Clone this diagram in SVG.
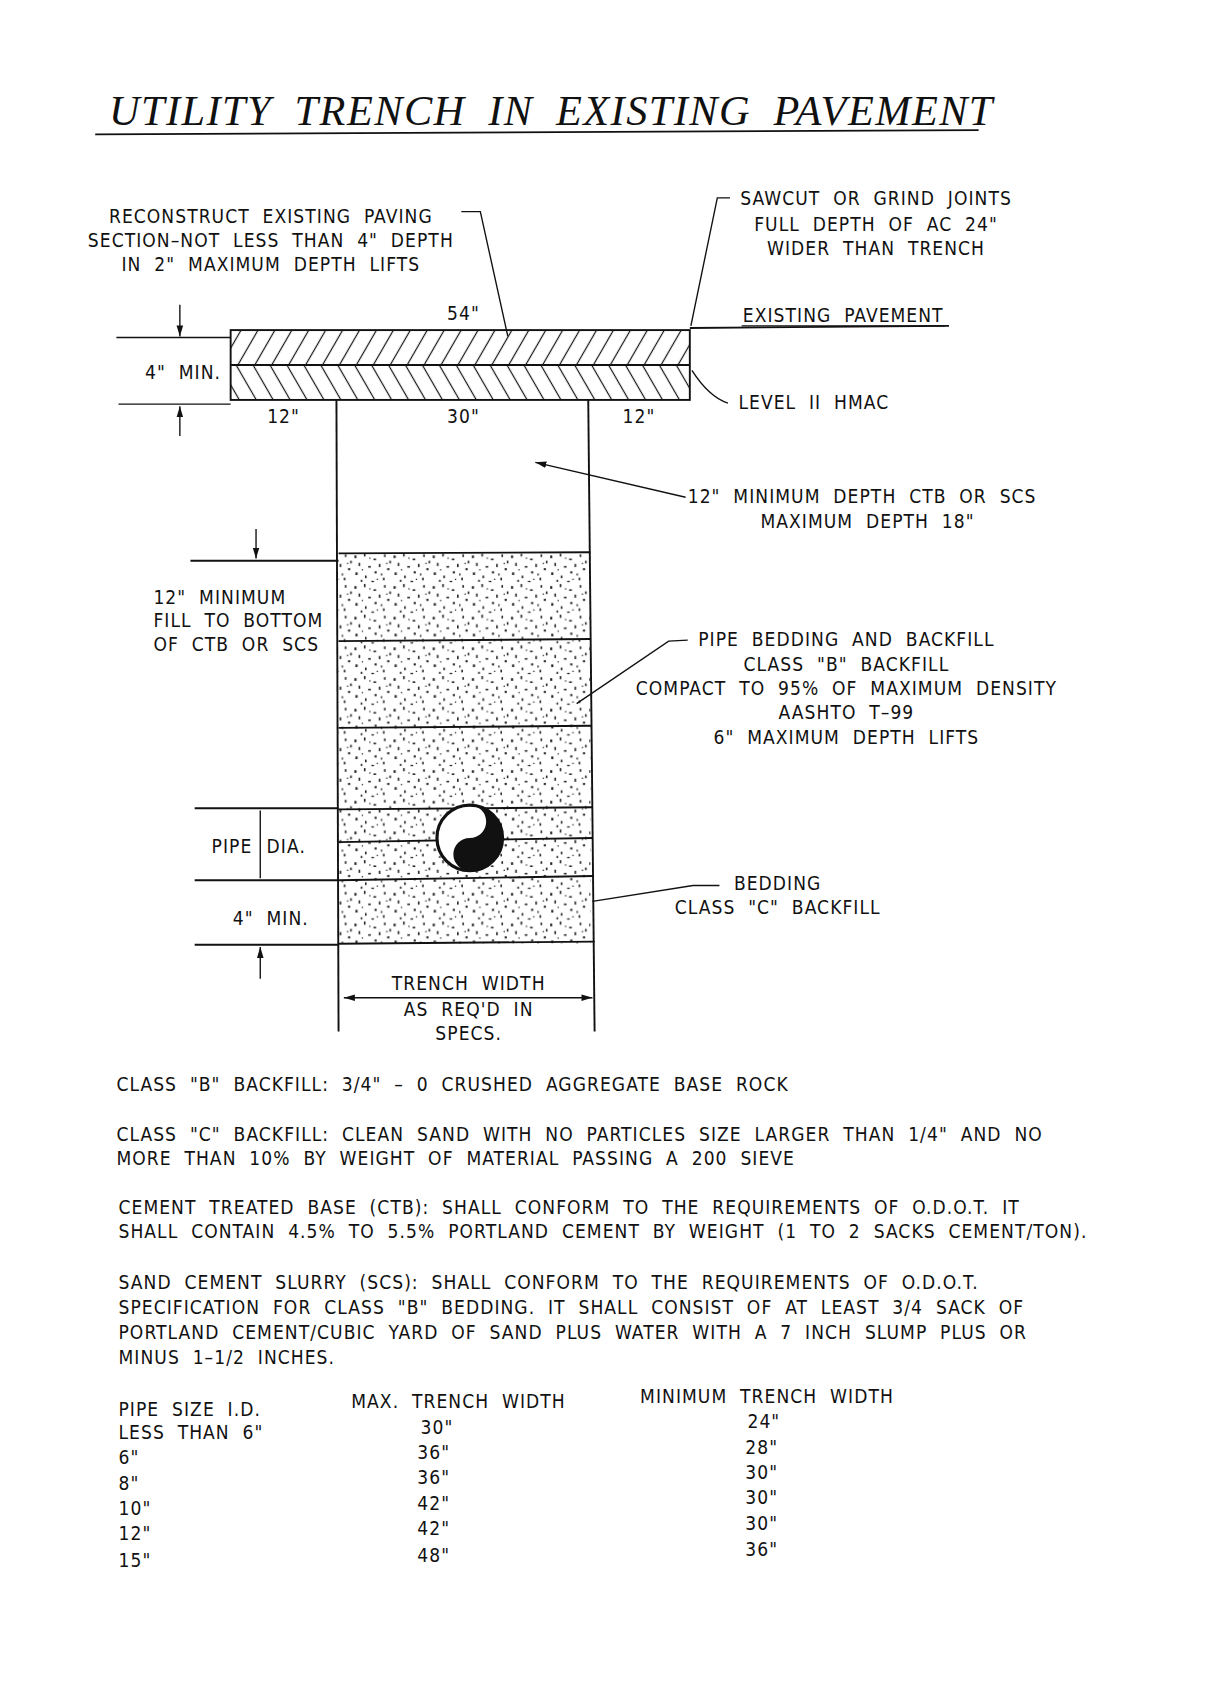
<svg xmlns="http://www.w3.org/2000/svg" width="1206" height="1684" viewBox="0 0 1206 1684">
<style>
text{font-family:"DejaVu Sans Condensed","Liberation Sans",sans-serif;font-size:18px;fill:#111;font-stretch:condensed;letter-spacing:1px;word-spacing:6px}
.c{text-anchor:middle}
.ln{stroke:#111;stroke-width:1.8;fill:none}
.th{stroke:#111;stroke-width:1.3;fill:none}
</style>
<defs>
<pattern id="h1" width="16" height="40" patternUnits="userSpaceOnUse" patternTransform="skewX(-30)">
<line x1="8" y1="0" x2="8" y2="40" stroke="#111" stroke-width="1.3"/>
</pattern>
<pattern id="h2" width="16" height="40" patternUnits="userSpaceOnUse" patternTransform="skewX(30)">
<line x1="8" y1="0" x2="8" y2="40" stroke="#111" stroke-width="1.3"/>
</pattern>
<pattern id="dots" width="37" height="29" patternUnits="userSpaceOnUse">
<g fill="#222">
<rect x="2" y="3" width="2" height="2.5"/><rect x="11" y="1" width="1.5" height="3"/><rect x="20" y="6" width="2.5" height="1.5"/><rect x="30" y="2" width="1.5" height="2.5"/>
<rect x="6" y="10" width="1.5" height="3"/><rect x="15" y="13" width="2.5" height="1.5"/><rect x="25" y="11" width="1.5" height="3"/><rect x="33" y="15" width="2" height="2"/>
<rect x="3" y="19" width="2" height="2.5"/><rect x="12" y="22" width="1.5" height="2.5"/><rect x="21" y="18" width="2" height="2"/><rect x="29" y="24" width="1.5" height="2.5"/>
<rect x="8" y="26" width="1.5" height="2"/><rect x="18" y="27" width="2.5" height="1.2"/><rect x="35" y="8" width="1.5" height="2.5"/><rect x="27" y="20" width="1.2" height="2"/>
<rect x="16" y="5" width="1.2" height="1.2"/><rect x="9" y="16" width="1.2" height="1.2"/><rect x="23" y="25" width="1.2" height="1.2"/><rect x="32" y="10" width="1.2" height="1.2"/>
</g>
</pattern>
<marker id="ar" viewBox="0 0 10 10" refX="10" refY="5" markerWidth="8" markerHeight="8" orient="auto-start-reverse"><path d="M0,2 L10,5 L0,8 z" fill="#111"/></marker>
</defs>
<rect width="1206" height="1684" fill="#fff"/>
<g transform="scale(1.058)">
<g id="title">
<text x="103" y="118" style="font-family:'Liberation Serif',serif;font-style:italic;font-size:40px;font-stretch:normal;letter-spacing:0;word-spacing:10px" textLength="835">UTILITY  TRENCH  IN  EXISTING  PAVEMENT</text>
<line class="ln" x1="90" y1="127" x2="925" y2="123"/>
</g>
<g id="pavement">
<rect x="218" y="312" width="434" height="33" fill="url(#h1)"/>
<rect x="218" y="345" width="434" height="33" fill="url(#h2)"/>
<rect class="ln" x="218" y="312" width="434" height="66"/>
<line class="ln" x1="218" y1="345" x2="652" y2="345"/>
<line class="ln" x1="652" y1="310" x2="897" y2="308"/>
<text x="797" y="304" class="c">EXISTING  PAVEMENT</text>
<line class="th" x1="701" y1="308" x2="893" y2="308"/>
<line class="th" x1="110" y1="319" x2="218" y2="319"/>
<line class="th" x1="112" y1="382" x2="218" y2="382"/>
<line class="th" x1="170" y1="288" x2="170" y2="318" marker-end="url(#ar)"/>
<line class="th" x1="170" y1="412" x2="170" y2="384" marker-end="url(#ar)"/>
<text x="173" y="358" class="c">4"  MIN.</text>
<text x="438" y="302" class="c">54"</text>
<text x="268" y="400" class="c">12"</text>
<text x="438" y="400" class="c">30"</text>
<text x="604" y="400" class="c">12"</text>
</g>
<g id="trench">
<line class="ln" x1="318" y1="378" x2="320" y2="975"/>
<line class="ln" x1="556" y1="378" x2="562" y2="975"/>
<rect x="320" y="523" width="238" height="369" fill="url(#dots)"/>
<line class="ln" x1="320" y1="523" x2="558" y2="522"/>
<line class="ln" x1="320" y1="606" x2="558" y2="604"/>
<line class="ln" x1="320" y1="688" x2="559" y2="686"/>
<line class="ln" x1="320" y1="765" x2="560" y2="763"/>
<line class="ln" x1="320" y1="796" x2="560" y2="792"/>
<line class="ln" x1="320" y1="832" x2="561" y2="828"/>
<line class="ln" x1="320" y1="892" x2="562" y2="890"/>
</g>
<g id="pipe">
<circle cx="444" cy="792" r="31" fill="#fff" stroke="#111" stroke-width="3"/>
<path d="M444,761 A31,31 0 0 1 444,823 A15.5,15.5 0 0 1 444,792 A15.5,15.5 0 0 0 444,761 z" fill="#111"/>
</g>
<g id="left-dims">
<line class="ln" x1="180" y1="530" x2="320" y2="530"/>
<line class="th" x1="242" y1="500" x2="242" y2="528" marker-end="url(#ar)"/>
<text x="145" y="571">12"  MINIMUM</text>
<text x="145" y="593">FILL  TO  BOTTOM</text>
<text x="145" y="615">OF  CTB  OR  SCS</text>
<line class="ln" x1="184" y1="764" x2="320" y2="764"/>
<line class="ln" x1="184" y1="832" x2="320" y2="832"/>
<line class="ln" x1="184" y1="893" x2="320" y2="893"/>
<line class="th" x1="246" y1="766" x2="246" y2="830"/>
<text x="200" y="806">PIPE</text>
<text x="252" y="806">DIA.</text>
<text x="220" y="874">4"  MIN.</text>
<line class="th" x1="246" y1="925" x2="246" y2="895" marker-end="url(#ar)"/>
</g>
<g id="trench-width">
<line class="th" x1="325" y1="943" x2="560" y2="943" marker-start="url(#ar)" marker-end="url(#ar)"/>
<text x="443" y="936" class="c">TRENCH  WIDTH</text>
<text x="443" y="960" class="c">AS  REQ'D  IN</text>
<text x="443" y="983" class="c">SPECS.</text>
</g>
<g id="labels">
<text x="256" y="211" class="c">RECONSTRUCT  EXISTING  PAVING</text>
<text x="256" y="233" class="c">SECTION–NOT  LESS  THAN  4"  DEPTH</text>
<text x="256" y="256" class="c">IN  2"  MAXIMUM  DEPTH  LIFTS</text>
<text x="828" y="194" class="c">SAWCUT  OR  GRIND  JOINTS</text>
<text x="828" y="218" class="c">FULL  DEPTH  OF  AC  24"</text>
<text x="828" y="241" class="c">WIDER  THAN  TRENCH</text>
<text x="698" y="387">LEVEL  II  HMAC</text>
<text x="650" y="475">12"  MINIMUM  DEPTH  CTB  OR  SCS</text>
<text x="820" y="499" class="c">MAXIMUM  DEPTH  18"</text>
<text x="800" y="611" class="c">PIPE  BEDDING  AND  BACKFILL</text>
<text x="800" y="634" class="c">CLASS  "B"  BACKFILL</text>
<text x="800" y="657" class="c">COMPACT  TO  95%  OF  MAXIMUM  DENSITY</text>
<text x="800" y="680" class="c">AASHTO  T–99</text>
<text x="800" y="703" class="c">6"  MAXIMUM  DEPTH  LIFTS</text>
<text x="735" y="841" class="c">BEDDING</text>
<text x="735" y="864" class="c">CLASS  "C"  BACKFILL</text>
</g>
<g id="connectors">
<polyline class="th" points="436,200 454,200 480,318"/>
<polyline class="th" points="690,187 678,187 653,308"/>
<path class="th" d="M654,350 Q670,375 688,381"/>
<line class="th" x1="648" y1="470" x2="506" y2="437" marker-end="url(#ar)"/>
<polyline class="th" points="650,605 632,606 545,665"/>
<polyline class="th" points="680,837 655,837 560,852"/>
</g>
<g id="notes">
<text x="110" y="1031">CLASS  "B"  BACKFILL:   3/4"  –  0  CRUSHED  AGGREGATE  BASE  ROCK</text>
<text x="110" y="1078">CLASS  "C"  BACKFILL:   CLEAN  SAND  WITH  NO  PARTICLES  SIZE  LARGER  THAN  1/4"  AND  NO</text>
<text x="110" y="1101">MORE  THAN  10%  BY  WEIGHT  OF  MATERIAL  PASSING  A  200  SIEVE</text>
<text x="112" y="1147">CEMENT  TREATED  BASE  (CTB):   SHALL  CONFORM  TO  THE  REQUIREMENTS  OF  O.D.O.T.   IT</text>
<text x="112" y="1170">SHALL  CONTAIN  4.5%  TO  5.5%  PORTLAND  CEMENT  BY  WEIGHT  (1  TO  2  SACKS  CEMENT/TON).</text>
<text x="112" y="1218">SAND  CEMENT  SLURRY  (SCS):   SHALL  CONFORM  TO  THE  REQUIREMENTS  OF  O.D.O.T.</text>
<text x="112" y="1242">SPECIFICATION  FOR  CLASS  "B"  BEDDING.   IT  SHALL  CONSIST  OF  AT  LEAST  3/4  SACK  OF</text>
<text x="112" y="1266">PORTLAND  CEMENT/CUBIC  YARD  OF  SAND  PLUS  WATER  WITH  A  7  INCH  SLUMP  PLUS  OR</text>
<text x="112" y="1289">MINUS  1–1/2  INCHES.</text>
</g>
<g id="table">
<text x="112" y="1338">PIPE  SIZE  I.D.</text>
<text x="332" y="1331">MAX.  TRENCH  WIDTH</text>
<text x="605" y="1326">MINIMUM  TRENCH  WIDTH</text>
<text x="112" y="1360">LESS  THAN  6"</text>
<text x="112" y="1384">6"</text>
<text x="112" y="1408">8"</text>
<text x="112" y="1432">10"</text>
<text x="112" y="1456">12"</text>
<text x="112" y="1481">15"</text>
<text x="413" y="1355" class="c">30"</text>
<text x="410" y="1379" class="c">36"</text>
<text x="410" y="1403" class="c">36"</text>
<text x="410" y="1427" class="c">42"</text>
<text x="410" y="1451" class="c">42"</text>
<text x="410" y="1476" class="c">48"</text>
<text x="722" y="1350" class="c">24"</text>
<text x="720" y="1374" class="c">28"</text>
<text x="720" y="1398" class="c">30"</text>
<text x="720" y="1422" class="c">30"</text>
<text x="720" y="1446" class="c">30"</text>
<text x="720" y="1471" class="c">36"</text>
</g>
</g>
</svg>
